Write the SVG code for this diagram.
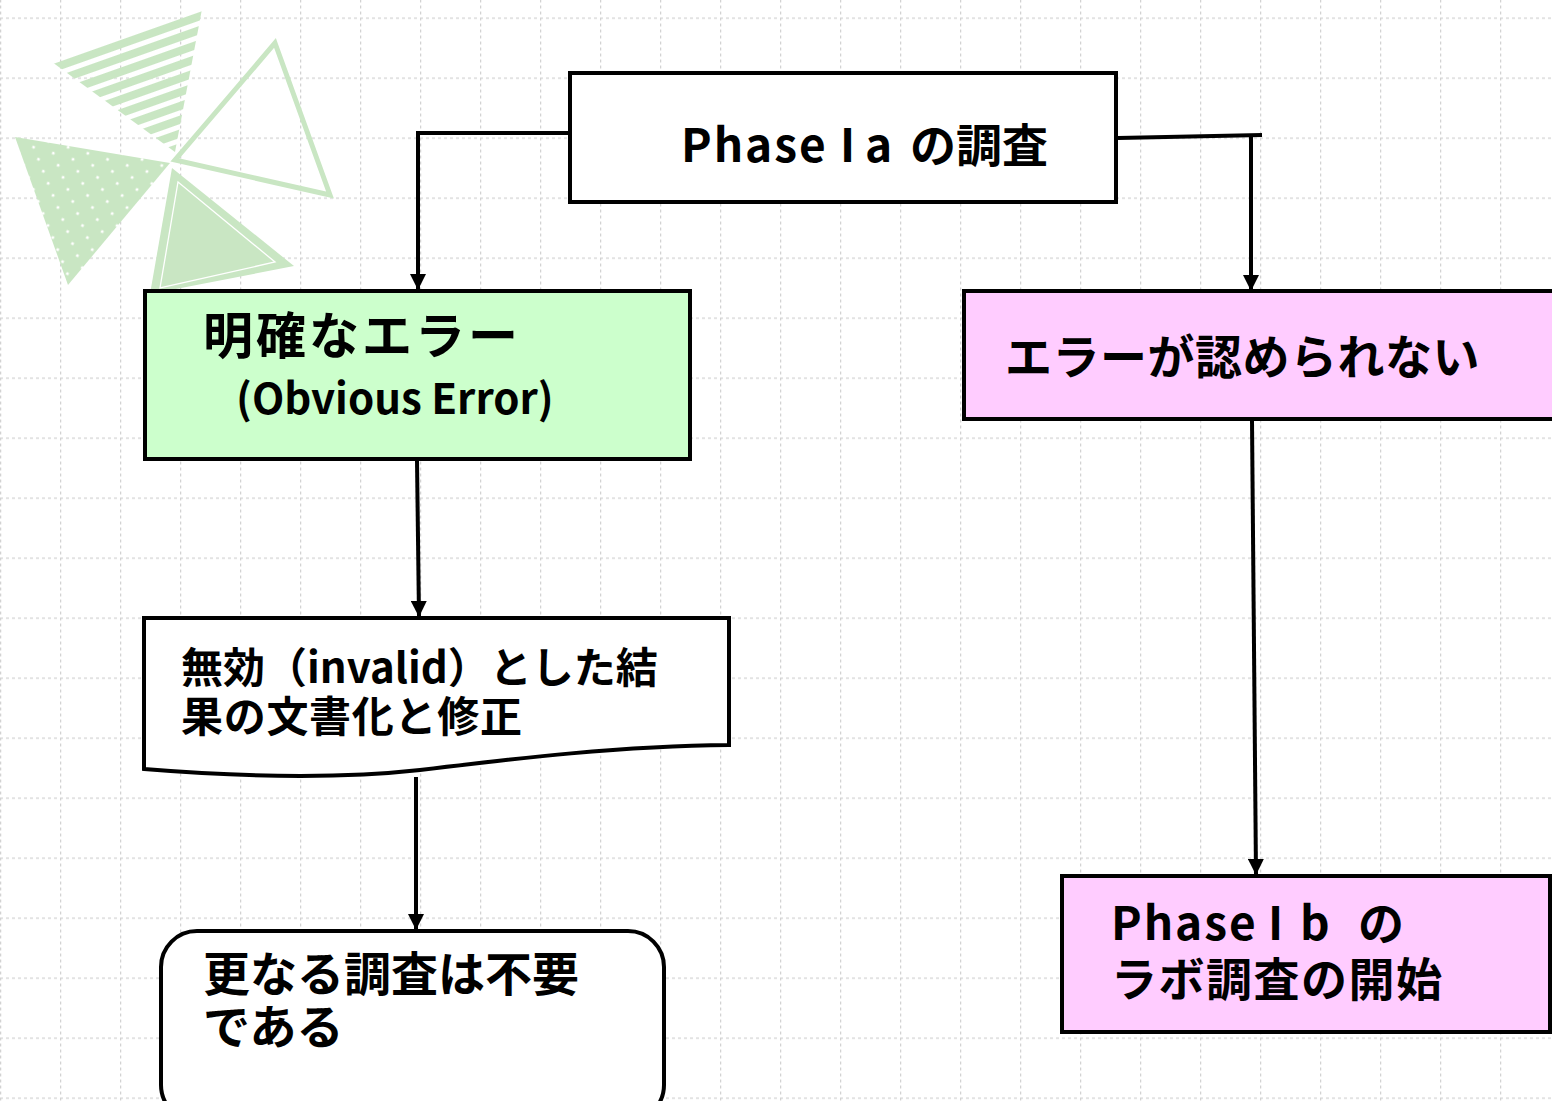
<svg xmlns="http://www.w3.org/2000/svg" width="1552" height="1101" viewBox="0 0 1552 1101">
  <style>
    .grid { stroke: #d2d2d2; stroke-width: 2.5; stroke-dasharray: 3 3; fill: none; }
    .box { stroke: #000; stroke-width: 4; }
    .wire { stroke: #000; stroke-width: 4; fill: none; }
    .lbl { font-family: "Noto Sans CJK JP", "Noto Sans", sans-serif; font-weight: bold; fill: #000; }
    .deco { fill: #c9e6c3; }
  </style>
  <defs>
    <pattern id="grid" width="60" height="60" patternUnits="userSpaceOnUse" y="17.5">
      <path class="grid" d="M0,0 H60 M0,0 V60"/>
    </pattern>
    <pattern id="stripes" width="13" height="13" patternUnits="userSpaceOnUse" patternTransform="rotate(-19.5)">
      <rect width="13" height="8" fill="#c9e6c3"/>
    </pattern>
    <pattern id="dots" width="16" height="13" patternUnits="userSpaceOnUse" patternTransform="rotate(-22)">
      <rect width="16" height="13" fill="#c9e6c3"/>
      <circle cx="8" cy="6" r="1.5" fill="#ffffff"/>
    </pattern>
    <marker id="arrow" viewBox="0 0 10 10" refX="10" refY="5" markerWidth="4" markerHeight="4" orient="auto" markerUnits="strokeWidth">
      <path d="M0,0 L10,5 L0,10 z" fill="#000"/>
    </marker>
  </defs>

  <!-- background -->
  <rect width="1552" height="1101" fill="#ffffff"/>
  <rect width="1552" height="1101" fill="url(#grid)"/>

  <!-- decorative triangles, top left -->
  <g id="decoration">
    <polygon points="52,62 202,9 175,152" fill="url(#stripes)"/>
    <polygon points="15,137 170,163 68,285" fill="url(#dots)"/>
    <polygon points="275,43 330,195 175,160" fill="none" stroke="#c9e6c3" stroke-width="5" stroke-linejoin="miter"/>
    <polygon class="deco" points="172,168 294,266 150,294"/>
    <polygon points="178,182 275,262 160,288" fill="none" stroke="#ffffff" stroke-width="1.3"/>
  </g>

  <!-- connectors -->
  <g id="connectors">
    <path class="wire" d="M568,133 H418 V290" marker-end="url(#arrow)"/>
    <path class="wire" d="M1118,138 L1262,135"/>
    <path class="wire" d="M1251,136 V291" marker-end="url(#arrow)"/>
    <path class="wire" d="M417,460 L419,617" marker-end="url(#arrow)"/>
    <path class="wire" d="M416,777 V930" marker-end="url(#arrow)"/>
    <path class="wire" d="M1252,420 L1256,875" marker-end="url(#arrow)"/>
  </g>

  <!-- Phase Ia -->
  <g id="phase-1a">
    <rect class="box" x="570" y="73" width="546" height="129" fill="#ffffff"/>
    <text class="lbl" y="162" font-size="46">
      <tspan x="681" letter-spacing="2">Phase</tspan>
      <tspan x="840">I</tspan>
      <tspan x="865">a</tspan>
      <tspan x="910">の調査</tspan>
    </text>
  </g>

  <!-- obvious error -->
  <g id="obvious-error">
    <rect class="box" x="145" y="291" width="545" height="168" fill="#ccffcc"/>
    <text class="lbl" x="203" y="354" font-size="50" letter-spacing="3">明確なエラー</text>
    <text class="lbl" x="236" y="414" font-size="42">(Obvious Error)</text>
  </g>

  <!-- no error -->
  <g id="no-error">
    <rect class="box" x="964" y="291" width="600" height="128" fill="#ffccff"/>
    <text class="lbl" x="1005" y="374" font-size="47" letter-spacing="0.5">エラーが認められない</text>
  </g>

  <!-- invalidation document -->
  <g id="invalid-doc">
    <path class="box" fill="#ffffff" d="M144,618 H729 V745 C620,746 520,758 420,770 C330,780 230,776 144,769 Z"/>
    <text class="lbl" font-size="42">
      <tspan x="181" y="683">無効（invalid）とした結</tspan>
      <tspan x="181" y="732" letter-spacing="0.7">果の文書化と修正</tspan>
    </text>
  </g>

  <!-- no further investigation -->
  <g id="no-further">
    <rect class="box" x="161" y="931" width="503" height="190" rx="36" ry="36" fill="#ffffff"/>
    <text class="lbl" font-size="47">
      <tspan x="203" y="991">更なる調査は不要</tspan>
      <tspan x="203" y="1044">である</tspan>
    </text>
  </g>

  <!-- Phase Ib -->
  <g id="phase-1b">
    <rect class="box" x="1062" y="876" width="488" height="156" fill="#ffccff"/>
    <text class="lbl" font-size="46">
      <tspan x="1111" y="940" letter-spacing="2">Phase</tspan>
      <tspan x="1268" y="940">I</tspan>
      <tspan x="1300" y="940">b</tspan>
      <tspan x="1358" y="940">の</tspan>
      <tspan x="1111" y="996" letter-spacing="1.5">ラボ調査の開始</tspan>
    </text>
  </g>
</svg>
